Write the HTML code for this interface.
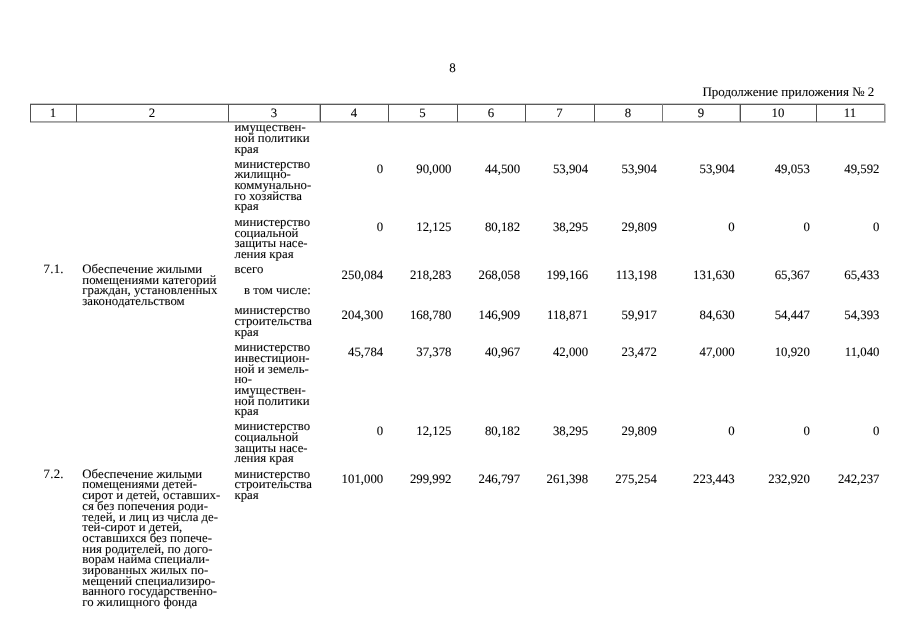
<!DOCTYPE html>
<html><head><meta charset="utf-8"><style>
html,body{margin:0;padding:0;background:#fff;width:905px;height:640px;overflow:hidden}
body{position:relative}
#w{position:absolute;left:0;top:0;width:905px;height:640px;will-change:transform}
.t,.n{position:absolute;font-family:"Liberation Serif",serif;font-size:12.8px;line-height:10.7px;color:#000;white-space:nowrap;text-rendering:geometricPrecision;-webkit-text-stroke:0.2px rgba(0,0,0,.45)}
.n{text-align:right}
.hl{position:absolute;height:1px}
.vl{position:absolute;width:1px}
</style></head><body><div id="w">
<div class="t" style="left:0;width:905px;text-align:center;top:62.80px;font-size:13px">8</div>
<div class="n" style="right:30.70px;top:86.80px;font-size:13px">Продолжение приложения № 2</div>
<div class="hl" style="left:30px;top:103px;width:855px;background:#c8c8c8"></div>
<div class="hl" style="left:30px;top:104px;width:855px;background:#5a5a5a"></div>
<div class="hl" style="left:30px;top:121px;width:855px;background:#a0a0a0"></div>
<div class="hl" style="left:30px;top:122px;width:855px;background:#b4b4b4"></div>
<div class="vl" style="left:30px;top:104px;height:18px;background:#505050"></div>
<div class="vl" style="left:76px;top:104px;height:18px;background:#505050"></div>
<div class="vl" style="left:228px;top:104px;height:18px;background:#505050"></div>
<div class="vl" style="left:320px;top:104px;height:18px;background:#505050"></div>
<div class="vl" style="left:388px;top:104px;height:18px;background:#505050"></div>
<div class="vl" style="left:457px;top:104px;height:18px;background:#505050"></div>
<div class="vl" style="left:525px;top:104px;height:18px;background:#505050"></div>
<div class="vl" style="left:594px;top:104px;height:18px;background:#505050"></div>
<div class="vl" style="left:662px;top:104px;height:18px;background:#7a7a7a"></div>
<div class="vl" style="left:740px;top:104px;height:18px;background:#505050"></div>
<div class="vl" style="left:816px;top:104px;height:18px;background:#505050"></div>
<div class="vl" style="left:884px;top:104px;height:18px;background:#909090"></div>
<div class="vl" style="left:319px;top:105px;height:16px;background:#bcbcbc"></div>
<div class="vl" style="left:739px;top:105px;height:16px;background:#bcbcbc"></div>
<div class="vl" style="left:885px;top:104px;height:19px;background:#c4c4c4"></div>
<div class="t" style="left:30px;width:46px;text-align:center;top:108px">1</div>
<div class="t" style="left:76px;width:152px;text-align:center;top:108px">2</div>
<div class="t" style="left:228px;width:92px;text-align:center;top:108px">3</div>
<div class="t" style="left:320px;width:68px;text-align:center;top:108px">4</div>
<div class="t" style="left:388px;width:69px;text-align:center;top:108px">5</div>
<div class="t" style="left:457px;width:68px;text-align:center;top:108px">6</div>
<div class="t" style="left:525px;width:69px;text-align:center;top:108px">7</div>
<div class="t" style="left:594px;width:68px;text-align:center;top:108px">8</div>
<div class="t" style="left:662px;width:78px;text-align:center;top:108px">9</div>
<div class="t" style="left:740px;width:76px;text-align:center;top:108px">10</div>
<div class="t" style="left:816px;width:68px;text-align:center;top:108px">11</div>
<div class="t" style="left:234.5px;top:122.10px">имуществен-<br>ной политики<br>края</div>
<div class="t" style="left:234.5px;top:158.50px">министерство<br>жилищно-<br>коммунально-<br>го хозяйства<br>края</div>
<div class="n" style="right:521.80px;top:164.00px">0</div>
<div class="n" style="right:453.50px;top:164.00px">90,000</div>
<div class="n" style="right:384.90px;top:164.00px">44,500</div>
<div class="n" style="right:316.90px;top:164.00px">53,904</div>
<div class="n" style="right:248.20px;top:164.00px">53,904</div>
<div class="n" style="right:170.30px;top:164.00px">53,904</div>
<div class="n" style="right:95.10px;top:164.00px">49,053</div>
<div class="n" style="right:25.50px;top:164.00px">49,592</div>
<div class="t" style="left:234.5px;top:217.00px">министерство<br>социальной<br>защиты насе-<br>ления края</div>
<div class="n" style="right:521.80px;top:222.00px">0</div>
<div class="n" style="right:453.50px;top:222.00px">12,125</div>
<div class="n" style="right:384.90px;top:222.00px">80,182</div>
<div class="n" style="right:316.90px;top:222.00px">38,295</div>
<div class="n" style="right:248.20px;top:222.00px">29,809</div>
<div class="n" style="right:170.30px;top:222.00px">0</div>
<div class="n" style="right:95.10px;top:222.00px">0</div>
<div class="n" style="right:25.50px;top:222.00px">0</div>
<div class="t" style="left:43.6px;top:263.90px;letter-spacing:0.25px">7.1.</div>
<div class="t" style="left:82.3px;top:263.90px">Обеспечение жилыми<br>помещениями категорий<br>граждан, установленных<br>законодательством</div>
<div class="t" style="left:234.5px;top:263.90px">всего</div>
<div class="n" style="right:521.80px;top:269.80px">250,084</div>
<div class="n" style="right:453.50px;top:269.80px">218,283</div>
<div class="n" style="right:384.90px;top:269.80px">268,058</div>
<div class="n" style="right:316.90px;top:269.80px">199,166</div>
<div class="n" style="right:248.20px;top:269.80px">113,198</div>
<div class="n" style="right:170.30px;top:269.80px">131,630</div>
<div class="n" style="right:95.10px;top:269.80px">65,367</div>
<div class="n" style="right:25.50px;top:269.80px">65,433</div>
<div class="t" style="left:244px;top:284.50px">в том числе:</div>
<div class="t" style="left:234.5px;top:305.10px">министерство<br>строительства<br>края</div>
<div class="n" style="right:521.80px;top:310.00px">204,300</div>
<div class="n" style="right:453.50px;top:310.00px">168,780</div>
<div class="n" style="right:384.90px;top:310.00px">146,909</div>
<div class="n" style="right:316.90px;top:310.00px">118,871</div>
<div class="n" style="right:248.20px;top:310.00px">59,917</div>
<div class="n" style="right:170.30px;top:310.00px">84,630</div>
<div class="n" style="right:95.10px;top:310.00px">54,447</div>
<div class="n" style="right:25.50px;top:310.00px">54,393</div>
<div class="t" style="left:234.5px;top:342.20px">министерство<br>инвестицион-<br>ной и земель-<br>но-<br>имуществен-<br>ной политики<br>края</div>
<div class="n" style="right:521.80px;top:347.00px">45,784</div>
<div class="n" style="right:453.50px;top:347.00px">37,378</div>
<div class="n" style="right:384.90px;top:347.00px">40,967</div>
<div class="n" style="right:316.90px;top:347.00px">42,000</div>
<div class="n" style="right:248.20px;top:347.00px">23,472</div>
<div class="n" style="right:170.30px;top:347.00px">47,000</div>
<div class="n" style="right:95.10px;top:347.00px">10,920</div>
<div class="n" style="right:25.50px;top:347.00px">11,040</div>
<div class="t" style="left:234.5px;top:421.30px">министерство<br>социальной<br>защиты насе-<br>ления края</div>
<div class="n" style="right:521.80px;top:426.30px">0</div>
<div class="n" style="right:453.50px;top:426.30px">12,125</div>
<div class="n" style="right:384.90px;top:426.30px">80,182</div>
<div class="n" style="right:316.90px;top:426.30px">38,295</div>
<div class="n" style="right:248.20px;top:426.30px">29,809</div>
<div class="n" style="right:170.30px;top:426.30px">0</div>
<div class="n" style="right:95.10px;top:426.30px">0</div>
<div class="n" style="right:25.50px;top:426.30px">0</div>
<div class="t" style="left:43.6px;top:468.70px;letter-spacing:0.25px">7.2.</div>
<div class="t" style="left:82.3px;top:468.70px">Обеспечение жилыми<br>помещениями детей-<br>сирот и детей, оставших-<br>ся без попечения роди-<br>телей, и лиц из числа де-<br>тей-сирот и детей,<br>оставшихся без попече-<br>ния родителей, по дого-<br>ворам найма специали-<br>зированных жилых по-<br>мещений специализиро-<br>ванного государственно-<br>го жилищного фонда</div>
<div class="t" style="left:234.5px;top:468.65px">министерство<br>строительства<br>края</div>
<div class="n" style="right:521.80px;top:474.00px">101,000</div>
<div class="n" style="right:453.50px;top:474.00px">299,992</div>
<div class="n" style="right:384.90px;top:474.00px">246,797</div>
<div class="n" style="right:316.90px;top:474.00px">261,398</div>
<div class="n" style="right:248.20px;top:474.00px">275,254</div>
<div class="n" style="right:170.30px;top:474.00px">223,443</div>
<div class="n" style="right:95.10px;top:474.00px">232,920</div>
<div class="n" style="right:25.50px;top:474.00px">242,237</div>
</div></body></html>
